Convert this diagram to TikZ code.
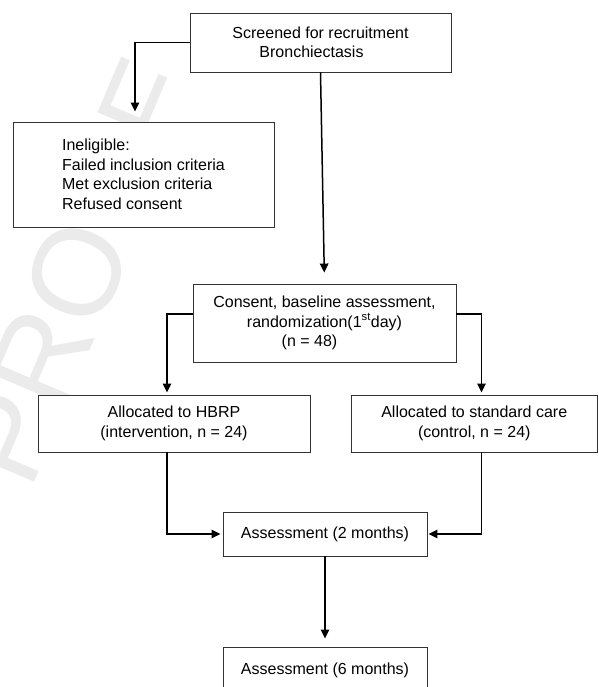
\documentclass[tikz,border=0pt]{standalone}
\usepackage{fontspec}
\setmainfont{Liberation Sans}
\usetikzlibrary{arrows.meta}
\begin{document}
\begin{tikzpicture}[x=1pt,y=-1pt,
  box/.style={draw=black!80, line width=0.9pt, fill=white, inner sep=0pt,
    font=\fontsize{16}{19.5}\selectfont, text=black, align=center},
  conn/.style={line width=1.5pt, black},
  arr/.style={conn, -{Triangle[length=9pt,width=8.5pt]}},
]
\clip (0,0) rectangle (598,687);
\fill[white] (0,0) rectangle (598,687);
\node[rotate=67, text=black!8, font=\fontsize{124}{124}\selectfont, inner sep=0pt] (wm) at (77,272) {PROOF};

\node[box, minimum width=261pt, minimum height=59pt] (scr) at (320.5,42.5)
  {Screened for recruitment\\Bronchiectasis\hspace*{18pt}};
\node[box, minimum width=261pt, minimum height=105pt, align=left] (inel) at (143.5,174.5)
  {Ineligible:\\Failed inclusion criteria\\Met exclusion criteria\\Refused consent};
\node[box, minimum width=263pt, minimum height=78pt] (cons) at (324.5,323)
  {Consent, baseline assessment,\\randomization(1\textsuperscript{st}day)\\(n = 48)\hspace*{30pt}};
\node[box, minimum width=272pt, minimum height=57pt] (hbrp) at (174,423.5)
  {Allocated to HBRP\\(intervention, n = 24)};
\node[box, minimum width=246.5pt, minimum height=57pt] (std) at (474.25,423.5)
  {Allocated to standard care\\(control, n = 24)};
\node[box, minimum width=204pt, minimum height=44pt] (as2) at (325,534)
  {Assessment (2 months)};
\node[box, minimum width=204pt, minimum height=46pt] (as3) at (325,670)
  {Assessment (6 months)};

\coordinate (ix) at (135,0);
\coordinate (lx) at (167,0);
\coordinate (rx) at (481.5,0);

\draw[arr, shorten >=10pt] (scr.west) -| (ix |- inel.north);
\draw[arr, shorten >=11pt] (scr.south) -- (cons.north);
\draw[arr, shorten >=2pt] ([yshift=9pt]cons.west) -| (lx |- hbrp.north);
\draw[arr, shorten >=2pt] ([yshift=9pt]cons.east) -| (rx |- std.north);
\draw[arr, shorten >=2pt] (lx |- hbrp.south) |- (as2.west);
\draw[arr, shorten >=1pt] (rx |- std.south) |- (as2.east);
\draw[arr, shorten >=8pt] (as2.south) -- (as3.north);
\end{tikzpicture}
\end{document}
